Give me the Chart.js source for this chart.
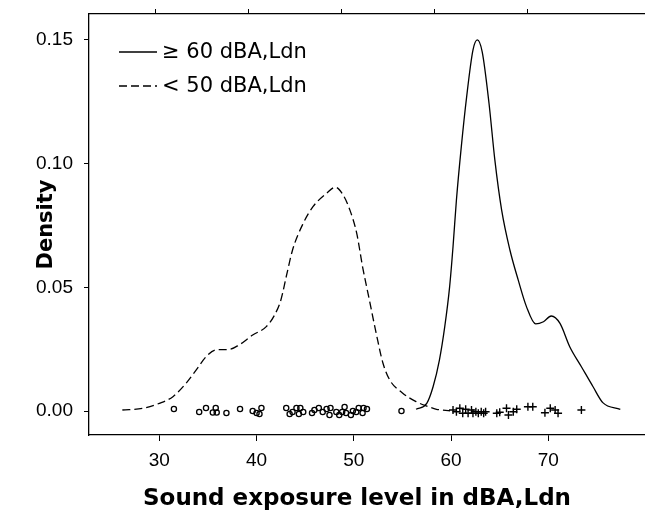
<!DOCTYPE html>
<html>
<head>
<meta charset="utf-8">
<script src="https://cdn.jsdelivr.net/npm/chart.js@4.4.0/dist/chart.umd.min.js"></script>
<style>
  html, body { margin: 0; padding: 0; background: #fff; }
  #chart { display: block; }
</style>
</head>
<body>
<canvas id="chart" width="645" height="513"></canvas>
<script>
// Axis ticks
const xTicks = [30, 40, 50, 60, 70];
const yTicks = [0, 0.05, 0.10, 0.15];

// Density, < 50 dBA,Ldn (dashed)
const lowX = [26.2, 28.3, 30.0, 31.4, 32.75, 33.8, 34.8, 35.8, 37.2, 38.2, 39.6, 41.0, 41.85, 42.5, 43.05, 43.7,
              44.8, 45.8, 47.2, 48.1, 48.9, 49.6, 50.3, 50.9, 51.6, 52.3, 53.0, 53.7, 55.0, 56.4, 57.5, 58.5, 59.9];
const lowY = [0.0004, 0.0011, 0.0031, 0.0058, 0.0112, 0.0166, 0.0219, 0.0247, 0.0249, 0.0267, 0.0307, 0.0341, 0.0388, 0.0449, 0.0543, 0.0651,
              0.0759, 0.0826, 0.0880, 0.0905, 0.0873, 0.0812, 0.0718, 0.0583, 0.0449, 0.0314, 0.0193, 0.0125, 0.0073, 0.0038, 0.0020, 0.0007, 0.0001];

// Density, >= 60 dBA,Ldn (solid)
const highX = [56.4, 57.5, 58.15, 58.8, 59.35, 59.85, 60.2, 60.55, 61.05, 61.6, 62.25, 62.7, 63.2, 63.9,
               64.5, 65.2, 66.05, 66.9, 67.75, 68.7, 69.5, 70.3, 71.2, 72.2, 73.4, 74.6, 75.6, 77.4];
const highY = [0.0007, 0.0031, 0.0098, 0.0206, 0.0341, 0.0502, 0.0664, 0.0853, 0.1068, 0.1270, 0.1459, 0.1500, 0.1452, 0.1244,
               0.1015, 0.0812, 0.0651, 0.0530, 0.0422, 0.0352, 0.0361, 0.0384, 0.0354, 0.0260, 0.0179, 0.0098, 0.0034, 0.0007];

// Rug of observations (small vertical jitter around 0)
const lowRugX = [31.5, 34.1, 34.8, 35.5, 35.8, 35.9, 36.9, 38.3, 39.6, 40.0, 40.3, 40.5,
                 43.05, 43.4, 43.7, 44.1, 44.35, 44.5, 44.8, 45.7, 45.95, 46.4, 46.8, 47.2, 47.5,
                 47.6, 48.2, 48.5, 48.8, 49.05, 49.2, 49.7, 49.9, 50.25, 50.5, 50.9, 51.0, 51.35, 54.9];
const lowRugY = [0.0008, -0.0004, 0.0012, -0.0006, 0.0012, -0.0006, -0.0008, 0.0008, 0, -0.0008, -0.0012, 0.0012,
                 0.0012, -0.0012, -0.0004, 0.0012, -0.0012, 0.0012, -0.0004, -0.0008, 0.0004, 0.0012, -0.0004, 0.0008, -0.0016,
                 0.0012, -0.0004, -0.0016, -0.0004, 0.0016, -0.0008, -0.0016, 0, -0.0004, 0.0012, -0.0008, 0.0012, 0.0008, 0];
const highRugX = [60.2, 60.55, 60.9, 61.2, 61.5, 61.75, 62.1, 62.25, 62.55, 62.8, 63.1, 63.35, 63.55,
                  64.7, 65.0, 65.7, 65.9, 66.4, 66.75, 67.9, 68.4, 69.65, 70.2, 70.7, 71.0, 73.4];
const highRugY = [0.0004, -0.0003, 0.0011, -0.0009, 0.0007, -0.0009, 0.0004, -0.0009, -0.0003, -0.0009, -0.0003, -0.0009, -0.0003,
                  -0.0009, -0.0005, 0.0011, -0.0016, -0.0003, 0.0007, 0.0017, 0.0017, -0.0007, 0.0011, 0.0004, -0.0009, 0.0004];

const legendLabels = ['≥ 60 dBA,Ldn', '< 50 dBA,Ldn'];
const xTitle = 'Sound exposure level in dBA,Ldn';
const yTitle = 'Density';

const toPoints = (xs, ys) => xs.map((x, i) => ({ x: x, y: ys[i] }));

// Legend inside the plot and the x title
const overlay = {
    id: 'overlay',
    afterDraw(chart) {
        const ctx = chart.ctx;
        ctx.save();
        ctx.strokeStyle = '#000';
        ctx.fillStyle = '#000';
        ctx.lineWidth = 1.3;
        ctx.font = '21px "DejaVu Sans"';
        ctx.textBaseline = 'middle';
        ctx.textAlign = 'left';
        [0, 1].forEach(i => {
            const ds = chart.data.datasets[i];
            const y = 52 + i * 34;
            ctx.setLineDash(ds.borderDash || []);
            ctx.beginPath();
            ctx.moveTo(119, y);
            ctx.lineTo(157, y);
            ctx.stroke();
            ctx.setLineDash([]);
            ctx.fillText(ds.label, 162, y + 1);
        });

        ctx.font = 'bold 23px "DejaVu Sans"';
        ctx.textAlign = 'center';
        ctx.fillText(xTitle, 357, 499);
        ctx.restore();
    }
};

const axisGrid = {
    drawOnChartArea: false,
    drawTicks: true,
    color: '#000',
    lineWidth: 1
};

// fixed axis sizes, no extra label padding
const fixSize = (w, h) => (scale) => {
    if (w !== null) scale.width = w;
    if (h !== null) scale.height = h;
    scale.paddingTop = 0;
    scale.paddingBottom = 0;
    scale.paddingLeft = 0;
    scale.paddingRight = 0;
};

new Chart(document.getElementById('chart'), {
    type: 'scatter',
    data: {
        datasets: [
            {
                label: legendLabels[0],
                type: 'line',
                data: toPoints(highX, highY),
                borderColor: '#000',
                borderWidth: 1.3,
                pointRadius: 0,
                cubicInterpolationMode: 'monotone',
                fill: false
            },
            {
                label: legendLabels[1],
                type: 'line',
                data: toPoints(lowX, lowY),
                borderColor: '#000',
                borderWidth: 1.3,
                borderDash: [8, 4],
                pointRadius: 0,
                cubicInterpolationMode: 'monotone',
                fill: false
            },
            {
                label: 'low rug',
                data: toPoints(lowRugX, lowRugY),
                pointStyle: 'circle',
                pointRadius: 2.6,
                borderColor: '#000',
                backgroundColor: 'rgba(0,0,0,0)',
                borderWidth: 1.3
            },
            {
                label: 'high rug',
                data: toPoints(highRugX, highRugY),
                pointStyle: 'cross',
                pointRadius: 4,
                borderColor: '#000',
                borderWidth: 1.4
            }
        ]
    },
    options: {
        responsive: false,
        animation: false,
        layout: { padding: 0, autoPadding: false },
        plugins: {
            legend: { display: false },
            tooltip: { enabled: false }
        },
        scales: {
            x: {
                type: 'linear',
                position: 'bottom',
                min: 22.77,
                max: 79.94,
                afterBuildTicks: (scale) => { scale.ticks = xTicks.map(v => ({ value: v })); },
                afterFit: fixSize(null, 78),
                grid: { ...axisGrid, tickLength: 6 },
                border: { display: true, color: '#000', width: 1.3 },
                ticks: {
                    color: '#000',
                    padding: 8,
                    maxRotation: 0,
                    font: { family: '"Liberation Sans", Arial', size: 19 }
                },
                title: { display: false }
            },
            x2: {
                type: 'linear',
                position: 'top',
                min: 22.8,
                max: 82.6,
                afterBuildTicks: (scale) => { scale.ticks = xTicks.map(v => ({ value: v })); },
                afterFit: fixSize(null, 14),
                grid: { ...axisGrid, tickLength: 5 },
                border: { display: true, color: '#000', width: 1.3 },
                ticks: { display: false }
            },
            y: {
                type: 'linear',
                position: 'left',
                min: -0.0097,
                max: 0.1605,
                afterBuildTicks: (scale) => { scale.ticks = yTicks.map(v => ({ value: v })); },
                afterFit: fixSize(89, null),
                grid: { ...axisGrid, tickLength: 5 },
                border: { display: true, color: '#000', width: 1.3 },
                ticks: {
                    color: '#000',
                    padding: 11,
                    font: { family: '"Liberation Sans", Arial', size: 19 },
                    callback: (value) => value.toFixed(2)
                },
                title: {
                    display: true,
                    text: yTitle,
                    color: '#000',
                    padding: { top: 34, bottom: 0 },
                    font: { family: '"DejaVu Sans"', size: 21, weight: 'bold' }
                }
            }
        }
    },
    plugins: [overlay]
});
</script>
</body>
</html>
